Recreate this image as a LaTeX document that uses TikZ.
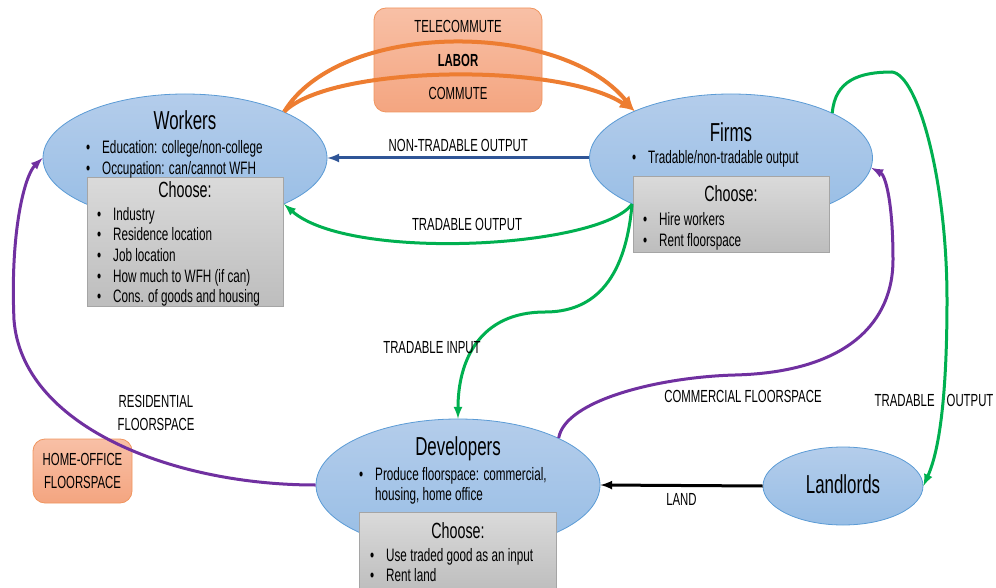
\documentclass[tikz,border=0pt]{standalone}
\usepackage{fontspec}
\setmainfont[FakeStretch=0.65]{Liberation Sans}
\usetikzlibrary{arrows,positioning,shapes.geometric}
\definecolor{elltop}{HTML}{B4CDEB}
\definecolor{ellbot}{HTML}{97BDE5}
\definecolor{elledge}{HTML}{5B9BD5}
\definecolor{graytop}{HTML}{DADADA}
\definecolor{graybot}{HTML}{BDBDBD}
\definecolor{grayedge}{HTML}{A5A5A5}
\definecolor{orgtop}{HTML}{F8C0A6}
\definecolor{orgbot}{HTML}{F4A580}
\definecolor{orgedge}{HTML}{F0955E}
\definecolor{orgline}{HTML}{ED7D31}
\definecolor{grnline}{HTML}{00B050}
\definecolor{purline}{HTML}{7030A0}
\definecolor{bluline}{HTML}{2F5597}
\newcommand{\bul}{\makebox[16pt][l]{\textbullet}}

\begin{document}
\begin{tikzpicture}[x=1pt, y=-1pt,
    agent/.style={ellipse, draw=elledge, line width=0.8pt, top color=elltop, bottom color=ellbot, inner sep=0pt},
    choosebox/.style={rectangle, draw=grayedge, line width=0.8pt, top color=graytop, bottom color=graybot, inner sep=0pt, anchor=north west},
    flowbox/.style={rectangle, rounded corners=12pt, draw=orgedge, line width=0.8pt, top color=orgtop, bottom color=orgbot, inner sep=0pt},
    ttl/.style={font=\fontsize{26}{30}\selectfont, anchor=base, inner sep=0pt},
    chs/.style={font=\fontsize{22}{26}\selectfont, anchor=base, inner sep=0pt},
    lst/.style={font=\fontsize{18}{21}\selectfont, align=left, anchor=north west, inner sep=0pt},
    lbl/.style={font=\fontsize{17.5}{23}\selectfont, anchor=base, inner sep=0pt, text=black},
    flow/.style={line width=3pt, -latex}]
        \useasboundingbox (0,0) rectangle (996,588);
        %boxes
        \node[flowbox, minimum width=168pt, minimum height=104pt] (labor) at (458,60) {};
        \node[flowbox, minimum width=99pt, minimum height=64pt, font=\fontsize{17.5}{23}\selectfont, align=center] (home) at (82.5,471) {HOME-OFFICE\\FLOORSPACE};
        %agents
        \node[agent, minimum width=284pt, minimum height=128pt] (wrk) at (185,158) {};
        \node[agent, minimum width=283pt, minimum height=128pt] (frm) at (731,158) {};
        \node[agent, minimum width=284pt, minimum height=132pt] (dev) at (458,485) {};
        \node[agent, minimum width=160pt, minimum height=78pt] (lld) at (843,486) {};
        \node[choosebox, minimum width=196pt, minimum height=129pt] (wchs) at (87,177) {};
        \node[choosebox, minimum width=196pt, minimum height=76pt] (fchs) at (633,176) {};
        \node[choosebox, minimum width=197pt, minimum height=80pt] (dchs) at (359,512) {};
        %texts
        \node[ttl] (wrkt) at (185,130) {Workers};
        \node[lst] (wrkl) at (86,140) {\bul Education: college/non-college\\\bul Occupation: can/cannot WFH};
        \node[chs] (wchst) at (185,198) {Choose:};
        \node[lst, font=\fontsize{18}{20.6}\selectfont] (wchsl) at (97,207) {\bul Industry\\\bul Residence location\\\bul Job location\\\bul How much to WFH (if can)\\\bul Cons. of goods and housing};
        \node[ttl] (frmt) at (731,142) {Firms};
        \node[lst] (frml) at (632,150) {\bul Tradable/non-tradable output};
        \node[chs] (fchst) at (731,202) {Choose:};
        \node[lst] (fchsl) at (643,212) {\bul Hire workers\\\bul Rent floorspace};
        \node[ttl] (devt) at (458,455) {Developers};
        \node[lst, font=\fontsize{18}{20}\selectfont] (devl) at (359,467) {\bul Produce floorspace: commercial,\\\hspace*{16pt}housing, home office};
        \node[chs] (dchst) at (458,538) {Choose:};
        \node[lst, font=\fontsize{18}{20}\selectfont] (dchsl) at (370,548) {\bul Use traded good as an input\\\bul Rent land};
        \node[ttl] (lldt) at (843,493) {Landlords};
        \node[lbl] (tele) at (458,33) {TELECOMMUTE};
        \node[lbl, font=\bfseries\fontsize{17.5}{23}\selectfont] (labt) at (458,67) {LABOR};
        \node[lbl] (comm) at (458,100) {COMMUTE};
        %edges
        \path [draw, flow, orgline, line width=4pt] (wrk.25) .. controls (340,20) and (560,20) .. (frm.154);
        \path [draw, flow, orgline, line width=4pt] (wrk.25) .. controls (330,65) and (560,62) .. (frm.154);
        \path [draw, flow, bluline] (frm.west) -- node[lbl, above=5pt] (ntr) {NON-TRADABLE OUTPUT} (wrk.east);
        \path [draw, flow, grnline] (frm.205) .. controls (600,248) and (350,262) .. (wrk.-25);
        \node[lbl] (tro) at (467,230) {TRADABLE OUTPUT};
        \path [draw, flow, grnline] (frm.205) .. controls (625,285) and (590,312) .. (545,312) .. controls (480,312) and (458,360) .. (dev.north);
        \node[lbl] (tri) at (432,353) {TRADABLE INPUT};
        \path [draw, flow, grnline] (frm.24) .. controls (835,80) and (860,72) .. (892,72) .. controls (918,75) and (947,180) .. (947,300) .. controls (947,420) and (935,460) .. (lld.east);
        \node[lbl] (tro2) at (934,406) {TRADABLE\hspace{12pt}OUTPUT};
        \path [draw, flow, purline] (dev.west) .. controls (170,485) and (22,425) .. (14,320) .. controls (10,230) and (25,175) .. (wrk.west);
        \node[lbl, align=center, anchor=north] (res) at (156,395) {RESIDENTIAL\\FLOORSPACE};
        \path [draw, flow, purline] (dev.25) .. controls (565,400) and (660,377) .. (735,375) .. controls (850,372) and (893,320) .. (893,260) .. controls (893,200) and (885,175) .. (frm.-4);
        \node[lbl] (cfs) at (743,402) {COMMERCIAL FLOORSPACE};
        \path [draw, flow, black] (lld.west) -- node[lbl, below=6pt] (land) {LAND} (dev.east);
\end{tikzpicture}
\end{document}
